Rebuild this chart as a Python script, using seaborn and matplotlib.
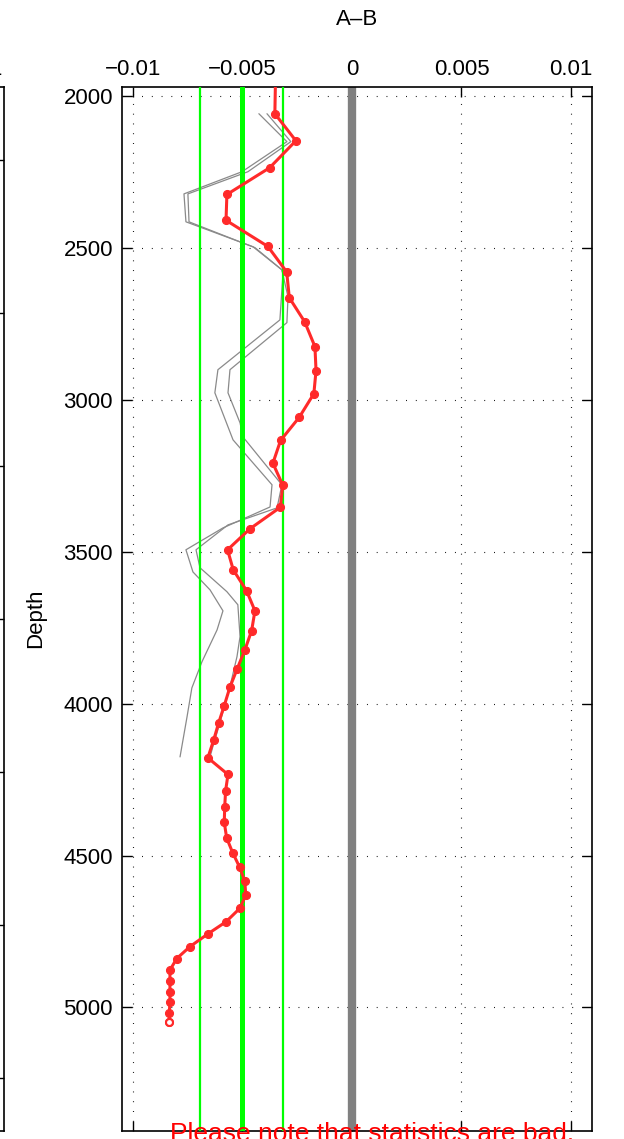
import numpy as np
import pandas as pd
import matplotlib
matplotlib.use("Agg")
import matplotlib.pyplot as plt
import seaborn as sns

# A-B profile (red line with markers)
depth = [1900, 2057, 2146, 2235, 2323, 2408, 2494, 2578, 2663, 2742, 2824, 2903,
         2979, 3057, 3133, 3208, 3280, 3353, 3424, 3493, 3559, 3628, 3694, 3759,
         3823, 3885, 3945, 4006, 4064, 4121, 4178, 4233, 4287, 4340, 4391, 4442,
         4490, 4538, 4585, 4630, 4673, 4718, 4758, 4800, 4839, 4877, 4913, 4948,
         4983, 5017, 5049]
a_minus_b = [-0.00348, -0.00352, -0.00256, -0.00376, -0.00571, -0.00575, -0.00384,
             -0.00298, -0.00286, -0.00216, -0.00169, -0.00164, -0.00174, -0.00241,
             -0.00326, -0.00361, -0.00316, -0.00327, -0.00466, -0.00568, -0.00542,
             -0.00481, -0.00443, -0.00458, -0.00489, -0.00524, -0.00557, -0.00583,
             -0.00609, -0.00632, -0.00658, -0.00566, -0.00577, -0.00581, -0.00583,
             -0.00572, -0.00545, -0.00513, -0.00489, -0.00485, -0.00511, -0.00575,
             -0.00658, -0.00740, -0.00800, -0.00831, -0.00831, -0.00831, -0.00831,
             -0.00834, -0.00834]

# two thin grey profiles
grey1_depth = [2057, 2149, 2248, 2321, 2413, 2495, 2571, 2584, 2736, 2900, 2976,
               3131, 3279, 3352, 3421, 3493, 3566, 3625, 3694, 3757, 3862, 3948,
               4043, 4175]
grey1 = [-0.00425, -0.00297, -0.00502, -0.00767, -0.00758, -0.00452, -0.00320,
         -0.00315, -0.00329, -0.00612, -0.00626, -0.00543, -0.00365, -0.00374,
         -0.00589, -0.00758, -0.00726, -0.00648, -0.00589, -0.00616, -0.00685,
         -0.00731, -0.00753, -0.00785]
grey2_depth = [2057, 2149, 2248, 2321, 2413, 2479, 2498, 2571, 2660, 2745, 2900,
               2976, 3075, 3121, 3279, 3355, 3411, 3493, 3552, 3631, 3674, 3779,
               3845, 3931, 4003, 4085, 4141, 4175]
grey2 = [-0.00388, -0.00279, -0.00475, -0.00749, -0.00744, -0.00511, -0.00443,
         -0.00320, -0.00292, -0.00297, -0.00557, -0.00566, -0.00511, -0.00498,
         -0.00320, -0.00342, -0.00566, -0.00712, -0.00694, -0.00571, -0.00521,
         -0.00511, -0.00525, -0.00553, -0.00580, -0.00612, -0.00635, -0.00648]

mean_ab = -0.00503
std_ab = 0.00189

x_ticks = [-0.01, -0.005, 0, 0.005, 0.01]
x_tick_labels = ["\u22120.01", "\u22120.005", "0", "0.005", "0.01"]
y_ticks = [2000, 2500, 3000, 3500, 4000, 4500, 5000]
note = "Please note that statistics are bad."

sns.set_theme(style="white")
plt.rcParams["font.family"] = ["Liberation Sans", "DejaVu Sans"]
plt.rcParams["text.color"] = "black"
plt.rcParams["axes.labelcolor"] = "black"

fig = plt.figure(figsize=(6.24, 11.39), dpi=100)
ax = fig.add_axes([0.1955, 0.00702, 0.7532, 0.9166])
ax_left = fig.add_axes([-0.7468, 0.00702, 0.7532, 0.9166])

# neighbouring subplot, mostly off the page
ax_left.set_xlim(0, 1)
ax_left.set_ylim(6.346, -0.477)
ax_left.set_yticks(range(7))
ax_left.set_xticks([0.95])
ax_left.set_xticklabels(["0.01"])
ax_left.xaxis.tick_top()
ax_left.tick_params(axis="y", direction="in", left=False, right=True,
                    labelleft=False, labelright=False, length=7, width=1,
                    color="black")
ax_left.tick_params(axis="x", direction="in", top=True, bottom=False,
                    labeltop=True, labelbottom=False, length=7, pad=5,
                    labelsize=16, color="black", labelcolor="black")
for s in ax_left.spines.values():
    s.set_color("black")
    s.set_linewidth(1.2)

# reference lines
ax.axvline(0, color="#808080", lw=6, zorder=2)
sns.lineplot(x=grey1, y=grey1_depth, sort=False, estimator=None,
             color="#8a8a8a", lw=0.9, ax=ax, zorder=2)
sns.lineplot(x=grey2, y=grey2_depth, sort=False, estimator=None,
             color="#8a8a8a", lw=0.9, ax=ax, zorder=2)
ax.axvline(mean_ab, color="#00ff00", lw=3.6, zorder=3)
ax.axvline(mean_ab - std_ab, color="#00ff00", lw=1.6, zorder=3)
ax.axvline(mean_ab + std_ab, color="#00ff00", lw=1.6, zorder=3)

sns.lineplot(x=a_minus_b, y=depth, sort=False, estimator=None,
             color="#ff2a2a", lw=2.2, marker="o", markersize=5.8,
             markeredgecolor="#ff2a2a", ax=ax, zorder=4)
ax.plot(a_minus_b[-1], depth[-1], "o", mfc="white", mec="#ff2a2a",
        ms=5, mew=1.5, zorder=5)

ax.set_xlim(-0.0105, 0.01096)
ax.set_ylim(5407, 1969)
ax.set_xticks(x_ticks)
ax.set_xticklabels(x_tick_labels)
ax.set_yticks(y_ticks)
ax.xaxis.tick_top()
ax.tick_params(axis="x", direction="in", top=True, bottom=True,
               labeltop=True, labelbottom=False, length=7, width=1,
               pad=5, labelsize=16, color="black", labelcolor="black")
ax.tick_params(axis="y", direction="in", left=True, right=True,
               length=7, width=1, pad=6.5, labelsize=16, color="black",
               labelcolor="black")
ax.grid(True, color="black", linestyle=(0, (0.8, 8)), lw=0.8)
ax.set_axisbelow(True)
for s in ax.spines.values():
    s.set_color("black")
    s.set_linewidth(1.2)

ax.set_xlabel("")
ax.set_title("A\u2013B", fontsize=16, y=1.0517, color="black")
ax.set_ylabel("Depth", fontsize=16, color="black")
ax.yaxis.set_label_coords(-0.162, 0.491)

ax.text(0.102, -0.0096, note, transform=ax.transAxes, color="#ff0000",
        fontsize=19, va="baseline", clip_on=False)

fig.savefig("out.png", dpi=100)
